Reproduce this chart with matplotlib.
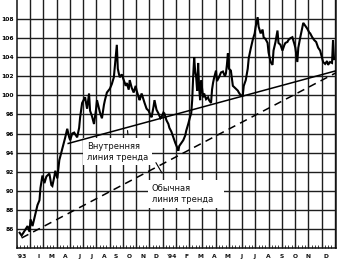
import matplotlib
matplotlib.use("Agg")
import matplotlib.pyplot as plt
import numpy as np

# --- data -------------------------------------------------------------
session = [0, 2, 5, 8, 10, 11, 13, 16, 18, 20, 21, 23, 25, 27, 30, 32, 33, 35, 36, 38,
           40, 43, 45, 46, 48, 50, 51, 53, 55, 58, 60, 61, 63, 66, 68, 70, 71, 73, 75, 77,
           78, 80, 81, 83, 85, 86, 88, 91, 93, 95, 96, 97, 98, 99, 100, 101, 103, 105, 107, 108,
           110, 111, 113, 115, 117, 118, 120, 121, 123, 126, 128, 130, 132, 133, 135, 136, 138, 140, 142, 143,
           145, 146, 148, 150, 151, 153, 155, 157, 159, 160, 161, 163, 165, 167, 168, 170, 172, 173, 174, 175,
           176, 177, 178, 179, 180, 181, 182, 183, 185, 186, 188, 190, 191, 193, 194, 195, 196, 198, 199, 201,
           203, 205, 207, 208, 209, 210, 211, 213, 215, 217, 218, 220, 221, 223, 225, 226, 228, 230, 231, 233,
           235, 237, 238, 240, 241, 243, 245, 246, 248, 250, 251, 253, 255, 256, 258, 260, 261, 263, 265, 267,
           268, 270, 271, 273, 275, 277, 278, 280, 281, 283, 285, 286, 288, 290, 292, 293, 295, 297, 299, 301,
           303, 305, 306, 308, 310, 311, 313, 315, 316, 317]
price = [85.6, 85.3, 85.8, 86.3, 85.7, 87.0, 86.3, 87.6, 88.5, 89.0, 90.3, 91.6, 90.8, 91.5, 91.8, 90.6, 90.5, 91.5, 92.1, 91.3,
         93.2, 94.4, 95.2, 95.6, 96.5, 95.6, 95.3, 96.0, 96.1, 95.6, 96.6, 97.7, 99.2, 99.8, 98.6, 100.2, 98.4, 97.8, 97.0, 98.5,
         99.5, 98.6, 98.2, 97.6, 99.0, 99.5, 100.3, 100.7, 101.2, 101.9, 103.0, 104.0, 105.3, 102.8, 102.3, 101.9, 102.2, 101.6, 101.0, 101.3,
         100.6, 101.6, 100.8, 100.3, 101.0, 100.5, 99.8, 99.5, 100.2, 99.2, 98.6, 98.4, 97.9, 97.7, 98.8, 99.5, 98.5, 98.1, 97.6, 97.7,
         98.2, 98.1, 97.4, 97.0, 96.6, 96.2, 95.6, 95.0, 94.5, 94.2, 94.7, 95.0, 95.3, 95.8, 96.3, 97.0, 97.8, 98.1, 99.5, 102.0,
         104.0, 102.5, 101.9, 100.5, 103.4, 100.8, 99.5, 101.6, 99.8, 100.2, 99.6, 99.8, 99.5, 99.2, 100.6, 101.3, 101.8, 102.6, 101.5, 101.9,
         102.4, 102.5, 102.0, 102.3, 103.2, 104.4, 102.8, 102.6, 101.0, 100.8, 100.7, 100.5, 100.3, 100.0, 100.0, 101.0, 101.6, 102.8, 103.9, 104.9,
         105.8, 106.5, 107.2, 108.2, 107.2, 106.5, 106.9, 106.1, 105.9, 105.5, 104.5, 103.5, 103.2, 104.7, 105.6, 106.8, 105.5, 105.3, 104.7, 105.3,
         105.5, 105.6, 105.8, 106.0, 106.1, 105.4, 105.0, 103.5, 105.0, 106.1, 107.1, 107.6, 107.3, 107.0, 106.6, 106.5, 106.1, 105.8, 105.6, 105.0,
         104.7, 103.9, 103.5, 103.3, 103.6, 103.2, 103.5, 103.4, 105.8, 103.8]

# trend lines (start / end session and price)
inner_trend_x = [49, 319]
inner_trend_y = [94.96, 102.58]
normal_trend_x = [2, 319]
normal_trend_y = [85.05, 102.37]

month_labels = ["'93", "I", "M", "A", "J", "J", "A", "S", "O", "N", "D",
                "'94", "F", "M", "A", "M", "J", "J", "A", "S", "O", "N", "D"]
month_label_pos = [2, 19, 32, 46, 60, 72, 85, 97, 111, 124, 137,
                   153, 168, 182, 196, 210, 224, 237, 251, 264, 278, 291, 309]
y_ticks = [86, 88, 90, 92, 94, 96, 98, 100, 102, 104, 106, 108]

# --- figure -----------------------------------------------------------
W, H = 342, 270
fig = plt.figure(figsize=(W / 100, H / 100), dpi=100)
ax = fig.add_axes([17 / W, 22 / H, 319 / W, 248 / H])
ax.set_xlim(0, 319)
ax.set_ylim(84, 110)

gridc = "#1e1e1e"
month_bounds = 10.7 + 13.35 * np.arange(24)
ax.set_xticks(month_bounds)
ax.set_xticks(np.arange(10.7 - 13.35, 320, 13.35 / 4), minor=True)
ax.set_xticklabels([])
ax.tick_params(axis="x", which="major", direction="in", length=3, width=0.8, color=gridc)
ax.tick_params(axis="x", which="minor", direction="in", length=2, width=0.6, color=gridc)
ax.set_yticks(y_ticks)
ax.set_yticklabels([str(v) for v in y_ticks], fontsize=4.3, fontweight="bold")
ax.tick_params(axis="y", length=0, pad=2)
ax.grid(True, which="major", color=gridc, linewidth=1.0)
ax.set_axisbelow(True)

for s in ["left", "bottom", "right"]:
    ax.spines[s].set_color("#111111")
    ax.spines[s].set_linewidth(1.1)
ax.spines["top"].set_visible(False)

for lab, pos in zip(month_labels, month_label_pos):
    ax.text(pos, -0.035, lab, transform=ax.get_xaxis_transform(), ha="center", va="center",
            fontsize=4.3, fontweight="bold", color="#111111")

# text boxes (white background hides grid)
ax.text(68, 94.1, "Внутренняя\nлиния тренда", fontsize=6, ha="left", va="center",
        linespacing=1.25, color="#111111", zorder=3,
        bbox=dict(boxstyle="square,pad=0.45", facecolor="white", edgecolor="none"))
ax.text(133, 89.65, "Обычная\nлиния тренда   ", fontsize=6, ha="left", va="center",
        linespacing=1.25, color="#111111", zorder=3,
        bbox=dict(boxstyle="square,pad=0.45", facecolor="white", edgecolor="none"))

# price
ax.plot(session, price, color="black", linewidth=1.5, zorder=4, solid_joinstyle="miter")

# trend lines
ax.plot(inner_trend_x, inner_trend_y, color="black", linewidth=1.1, zorder=5)
ax.plot(normal_trend_x, normal_trend_y, color="black", linewidth=1.1,
        linestyle=(0, (5, 3.5)), zorder=5)

# leader lines
ax.annotate("", xy=(108.5, 96.6), xytext=(109.5, 95.6),
            arrowprops=dict(arrowstyle="-", color="black", lw=0.8), zorder=6)
ax.annotate("", xy=(136, 93.2), xytext=(145, 91.6),
            arrowprops=dict(arrowstyle="-", color="black", lw=0.8), zorder=6)

fig.savefig("out.png", dpi=100)
